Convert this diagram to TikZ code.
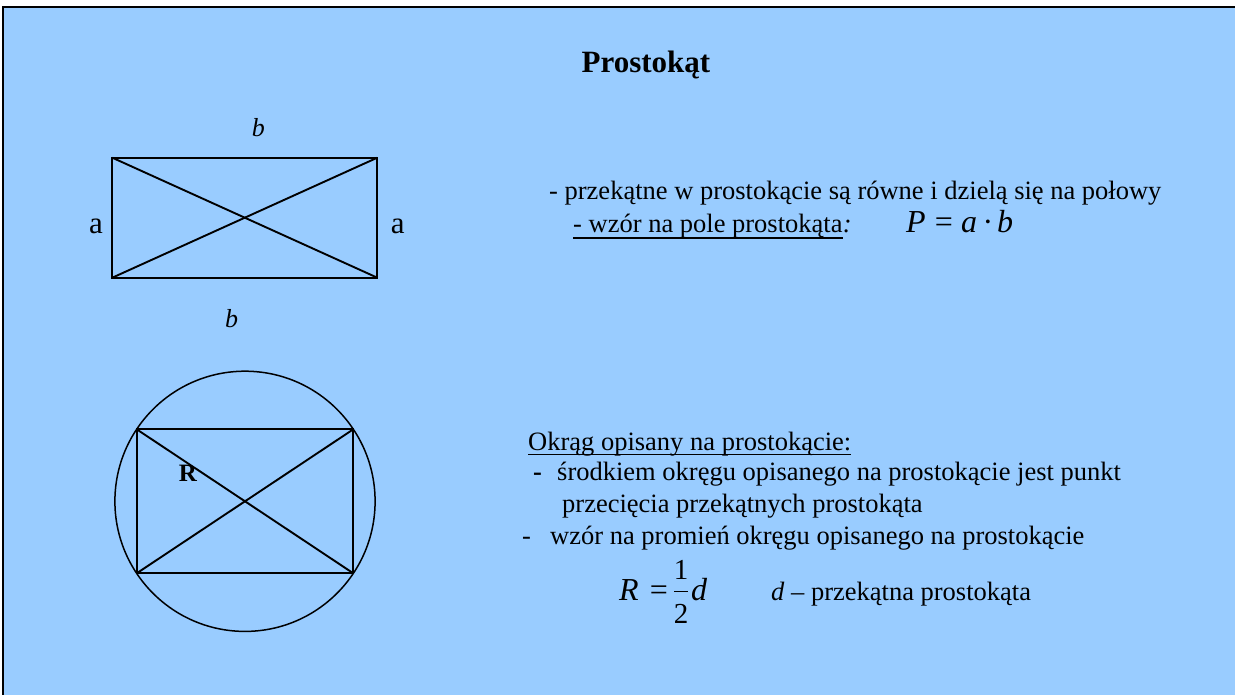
\documentclass[tikz,border=0pt]{standalone}
\usepackage{fontspec}
\setmainfont{Liberation Serif}
\usepackage{graphicx}
\usepackage{tikz}
\usetikzlibrary{positioning}
\definecolor{slideblue}{HTML}{99CCFF}

\begin{document}
\begin{tikzpicture}[x=1pt, y=-1pt,
    every node/.style={inner sep=0pt},
    txt/.style={anchor=base west, font=\fontsize{26.5}{30}\selectfont},
    lbl/.style={anchor=base, font=\fontsize{31}{34}\selectfont},
    frm/.style={anchor=base west, font=\fontsize{32}{34}\selectfont\itshape},
    eqsign/.style={anchor=base, font=\fontsize{32}{34}\selectfont},
    edge/.style={line width=1.9pt}]
    % Background
    \fill[white] (0,0) rectangle (1235,695);
    \useasboundingbox (0,0) rectangle (1235,695);
    \fill[slideblue] (3,7) rectangle (1245,705);
    \draw[line width=2.5pt] (3,705) -- (3,7) -- (1245,7);

    % Title
    \node[anchor=base, font=\fontsize{31}{34}\selectfont\bfseries] (title) at (646,72.7) {Prostokąt};

    % Rectangle
    \coordinate (tl) at (112.3,157.7);
    \coordinate (tr) at (377.3,157.7);
    \coordinate (br) at (377.3,277.7);
    \coordinate (bl) at (112.3,277.7);
    \draw[edge] (tl) -- (tr) -- (br) -- (bl) -- cycle;
    \draw[edge] (tl) -- (br);
    \draw[edge] (tr) -- (bl);

    \node[lbl, font=\fontsize{26}{28}\selectfont\itshape] (btop) at (258.3,136.7) {b};
    \node[lbl, font=\fontsize{26}{28}\selectfont\itshape] (bbot) at (231.5,327.3) {b};
    \node[lbl] (aleft) at (96,234) {a};
    \node[lbl] (aright) at (397.7,234) {a};

    % Rectangle in circle
    \coordinate (c) at (245,501.3);
    \coordinate (ctl) at (136.7,429.3);
    \coordinate (ctr) at (353.3,429.3);
    \coordinate (cbr) at (353.3,573.3);
    \coordinate (cbl) at (136.7,573.3);
    \draw[line width=1.5pt] (c) circle[radius=130.1pt];
    \draw[edge] (ctl) -- (ctr) -- (cbr) -- (cbl) -- cycle;
    \draw[edge] (ctl) -- (cbr);
    \draw[edge] (ctr) -- (cbl);
    \node[anchor=base, font=\fontsize{25}{28}\selectfont\bfseries] (rlab) at (188,481) {R};

    % Text
    \node[txt] (diag) at (549,200) {- przekątne w prostokącie są równe i dzielą się na połowy};
    \node[txt] (area) at (573,233) {- wzór na pole prostokąta};
    \node[txt] (colon) at (area.base east) {\itshape :};
    \draw[line width=1.4pt] ([yshift=-5pt]area.base west) -- ([yshift=-5pt]area.base east);

    \node[frm] (P) at (906,233) {P};
    \node[eqsign] (eq1) at (944,233) {=};
    \node[frm] (a) at (961,233) {a};
    \node[eqsign] (dot) at (988,233) {·};
    \node[frm] (b) at (997,233) {b};

    \node[txt] (circ) at (528,450) {Okrąg opisany na prostokącie:};
    \draw[line width=1.4pt] ([yshift=-4.3pt]circ.base west) -- ([yshift=-4.3pt]circ.base east);
    \node[txt, font=\fontsize{26.5}{30}\selectfont\bfseries] (dash1) at (533,480) {-};
    \node[txt] (centre) at (557,480) {środkiem okręgu opisanego na prostokącie jest punkt};
    \node[txt] (centre2) at (562,512) {przecięcia przekątnych prostokąta};
    \node[txt] (dash2) at (522,544) {-};
    \node[txt] (radius) at (550,544) {wzór na promień okręgu opisanego na prostokącie};

    % Formula
    \node[frm] (Rf) at (619,600) {R};
    \node[eqsign] (eq2) at (659,600) {=};
    \coordinate (barl) at (674,591.7);
    \coordinate (barr) at (688.3,591.7);
    \draw[line width=1.3pt] (barl) -- (barr);
    \node[anchor=base, font=\fontsize{29}{30}\selectfont] (one) at (681,579.3) {1};
    \node[anchor=base, font=\fontsize{29}{30}\selectfont] (two) at (681,623.3) {2};
    \node[frm] (df) at (691,600) {d};
    \node[txt] (dnote) at (771,600) {\textit{d} – przekątna prostokąta};
\end{tikzpicture}
\end{document}
